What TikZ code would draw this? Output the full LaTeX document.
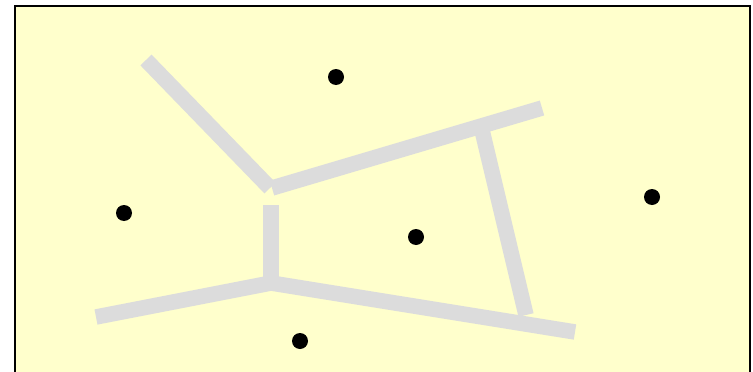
\documentclass[tikz,border=0pt]{standalone}
\usepackage{tikz}
\usetikzlibrary{positioning}
\definecolor{paper}{HTML}{FFFFCC}
\definecolor{edgegray}{HTML}{DCDCDC}
\tikzset{
  site/.style={circle,fill=black,inner sep=0pt,minimum size=16pt},
  cell/.style={edgegray,line width=15.5pt}
}
\begin{document}
\begin{tikzpicture}[x=1pt,y=-1pt]
  \useasboundingbox (0,0) rectangle (753,372);
  \draw[line width=2.5pt,fill=paper] (15,6) rectangle (750,390);
  % vertices of the cells
  \coordinate (tl) at (146,60);
  \coordinate (vu) at (270,188);
  \coordinate (vu2) at (272,188);
  \coordinate (tr) at (542,108);
  \coordinate (vm) at (271,205);
  \coordinate (vl) at (271,283);
  \coordinate (bl) at (96,317);
  \coordinate (br) at (575,332);
  \coordinate (rt) at (481,126);
  \coordinate (rb) at (526,315);
  % cell edges
  \draw[cell] (tl) -- (vu);
  \draw[cell] (rt) -- (rb);
  \draw[cell] (vu2) -- (tr);
  \draw[cell] (vm) -- (vl);
  \draw[cell] (bl) -- (vl) -- (br);
  % sites
  \foreach \n/\x/\y in {top/336/77,left/124/213,mid/416/237,right/652/197,bot/300/341}{
    \node[site] (\n) at (\x,\y) {};
  }
\end{tikzpicture}
\end{document}
